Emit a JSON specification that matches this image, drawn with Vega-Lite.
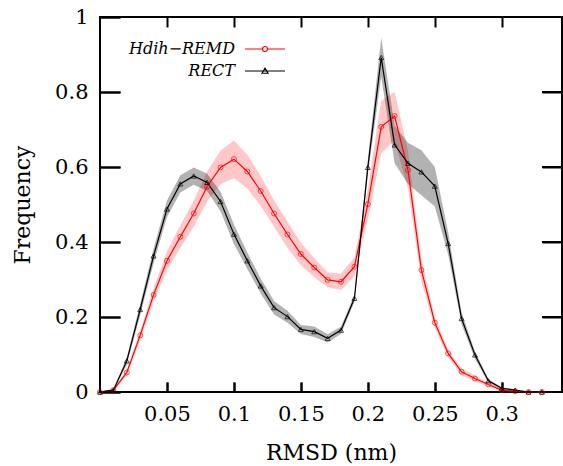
{
  "$schema": "https://vega.github.io/schema/vega-lite/v6.json",
  "width": 462,
  "height": 375,
  "autosize": {"type": "none"},
  "padding": {"left": 100, "top": 17, "right": 1, "bottom": 74},
  "config": {
    "view": {"stroke": "black", "strokeWidth": 2},
    "font": "DejaVu Serif",
    "axis": {
      "domain": false,
      "ticks": true,
      "tickColor": "black",
      "tickWidth": 2,
      "gridColor": "black",
      "gridWidth": 2,
      "gridOpacity": 1,
      "labelFont": "DejaVu Serif",
      "labelFontSize": 21,
      "labelColor": "black",
      "titleFont": "DejaVu Serif",
      "titleFontSize": 22,
      "titleFontWeight": "normal",
      "titleColor": "black",
      "labelFlush": false,
      "labelOverlap": false
    }
  },
  "data": {
    "values": [
      {"method": "H_dih-REMD", "rmsd": 0.00, "freq": 0, "lo": 0, "hi": 0},
      {"method": "H_dih-REMD", "rmsd": 0.01, "freq": 0.005, "lo": 0.002, "hi": 0.008},
      {"method": "H_dih-REMD", "rmsd": 0.02, "freq": 0.052, "lo": 0.044, "hi": 0.06},
      {"method": "H_dih-REMD", "rmsd": 0.03, "freq": 0.151, "lo": 0.139, "hi": 0.163},
      {"method": "H_dih-REMD", "rmsd": 0.04, "freq": 0.259, "lo": 0.241, "hi": 0.277},
      {"method": "H_dih-REMD", "rmsd": 0.05, "freq": 0.35, "lo": 0.325, "hi": 0.375},
      {"method": "H_dih-REMD", "rmsd": 0.06, "freq": 0.414, "lo": 0.384, "hi": 0.444},
      {"method": "H_dih-REMD", "rmsd": 0.07, "freq": 0.476, "lo": 0.441, "hi": 0.511},
      {"method": "H_dih-REMD", "rmsd": 0.08, "freq": 0.548, "lo": 0.508, "hi": 0.588},
      {"method": "H_dih-REMD", "rmsd": 0.09, "freq": 0.599, "lo": 0.554, "hi": 0.644},
      {"method": "H_dih-REMD", "rmsd": 0.10, "freq": 0.621, "lo": 0.571, "hi": 0.671},
      {"method": "H_dih-REMD", "rmsd": 0.11, "freq": 0.588, "lo": 0.543, "hi": 0.633},
      {"method": "H_dih-REMD", "rmsd": 0.12, "freq": 0.536, "lo": 0.496, "hi": 0.576},
      {"method": "H_dih-REMD", "rmsd": 0.13, "freq": 0.476, "lo": 0.441, "hi": 0.511},
      {"method": "H_dih-REMD", "rmsd": 0.14, "freq": 0.42, "lo": 0.385, "hi": 0.455},
      {"method": "H_dih-REMD", "rmsd": 0.15, "freq": 0.368, "lo": 0.338, "hi": 0.398},
      {"method": "H_dih-REMD", "rmsd": 0.16, "freq": 0.332, "lo": 0.307, "hi": 0.357},
      {"method": "H_dih-REMD", "rmsd": 0.17, "freq": 0.299, "lo": 0.279, "hi": 0.319},
      {"method": "H_dih-REMD", "rmsd": 0.18, "freq": 0.294, "lo": 0.272, "hi": 0.316},
      {"method": "H_dih-REMD", "rmsd": 0.19, "freq": 0.334, "lo": 0.309, "hi": 0.359},
      {"method": "H_dih-REMD", "rmsd": 0.20, "freq": 0.501, "lo": 0.461, "hi": 0.541},
      {"method": "H_dih-REMD", "rmsd": 0.21, "freq": 0.707, "lo": 0.637, "hi": 0.777},
      {"method": "H_dih-REMD", "rmsd": 0.22, "freq": 0.736, "lo": 0.671, "hi": 0.801},
      {"method": "H_dih-REMD", "rmsd": 0.23, "freq": 0.592, "lo": 0.542, "hi": 0.642},
      {"method": "H_dih-REMD", "rmsd": 0.24, "freq": 0.325, "lo": 0.295, "hi": 0.355},
      {"method": "H_dih-REMD", "rmsd": 0.25, "freq": 0.185, "lo": 0.17, "hi": 0.2},
      {"method": "H_dih-REMD", "rmsd": 0.26, "freq": 0.103, "lo": 0.093, "hi": 0.113},
      {"method": "H_dih-REMD", "rmsd": 0.27, "freq": 0.054, "lo": 0.045, "hi": 0.063},
      {"method": "H_dih-REMD", "rmsd": 0.28, "freq": 0.036, "lo": 0.028, "hi": 0.044},
      {"method": "H_dih-REMD", "rmsd": 0.29, "freq": 0.02, "lo": 0.015, "hi": 0.025},
      {"method": "H_dih-REMD", "rmsd": 0.30, "freq": 0.005, "lo": 0.003, "hi": 0.007},
      {"method": "H_dih-REMD", "rmsd": 0.31, "freq": 0.002, "lo": 0.001, "hi": 0.003},
      {"method": "H_dih-REMD", "rmsd": 0.32, "freq": 0, "lo": 0, "hi": 0},
      {"method": "H_dih-REMD", "rmsd": 0.33, "freq": 0, "lo": 0, "hi": 0},
      {"method": "RECT", "rmsd": 0.00, "freq": 0, "lo": 0, "hi": 0},
      {"method": "RECT", "rmsd": 0.01, "freq": 0.005, "lo": 0.002, "hi": 0.008},
      {"method": "RECT", "rmsd": 0.02, "freq": 0.083, "lo": 0.073, "hi": 0.093},
      {"method": "RECT", "rmsd": 0.03, "freq": 0.22, "lo": 0.205, "hi": 0.235},
      {"method": "RECT", "rmsd": 0.04, "freq": 0.363, "lo": 0.343, "hi": 0.383},
      {"method": "RECT", "rmsd": 0.05, "freq": 0.488, "lo": 0.466, "hi": 0.51},
      {"method": "RECT", "rmsd": 0.06, "freq": 0.555, "lo": 0.532, "hi": 0.578},
      {"method": "RECT", "rmsd": 0.07, "freq": 0.576, "lo": 0.553, "hi": 0.599},
      {"method": "RECT", "rmsd": 0.08, "freq": 0.559, "lo": 0.536, "hi": 0.582},
      {"method": "RECT", "rmsd": 0.09, "freq": 0.508, "lo": 0.482, "hi": 0.534},
      {"method": "RECT", "rmsd": 0.10, "freq": 0.421, "lo": 0.395, "hi": 0.447},
      {"method": "RECT", "rmsd": 0.11, "freq": 0.35, "lo": 0.328, "hi": 0.372},
      {"method": "RECT", "rmsd": 0.12, "freq": 0.283, "lo": 0.263, "hi": 0.303},
      {"method": "RECT", "rmsd": 0.13, "freq": 0.225, "lo": 0.207, "hi": 0.243},
      {"method": "RECT", "rmsd": 0.14, "freq": 0.201, "lo": 0.185, "hi": 0.217},
      {"method": "RECT", "rmsd": 0.15, "freq": 0.167, "lo": 0.155, "hi": 0.179},
      {"method": "RECT", "rmsd": 0.16, "freq": 0.161, "lo": 0.147, "hi": 0.175},
      {"method": "RECT", "rmsd": 0.17, "freq": 0.143, "lo": 0.132, "hi": 0.154},
      {"method": "RECT", "rmsd": 0.18, "freq": 0.165, "lo": 0.155, "hi": 0.175},
      {"method": "RECT", "rmsd": 0.19, "freq": 0.25, "lo": 0.24, "hi": 0.26},
      {"method": "RECT", "rmsd": 0.20, "freq": 0.599, "lo": 0.58, "hi": 0.62},
      {"method": "RECT", "rmsd": 0.21, "freq": 0.892, "lo": 0.84, "hi": 0.945},
      {"method": "RECT", "rmsd": 0.22, "freq": 0.659, "lo": 0.61, "hi": 0.71},
      {"method": "RECT", "rmsd": 0.23, "freq": 0.61, "lo": 0.555, "hi": 0.665},
      {"method": "RECT", "rmsd": 0.24, "freq": 0.587, "lo": 0.525, "hi": 0.645},
      {"method": "RECT", "rmsd": 0.25, "freq": 0.549, "lo": 0.495, "hi": 0.6},
      {"method": "RECT", "rmsd": 0.26, "freq": 0.396, "lo": 0.366, "hi": 0.426},
      {"method": "RECT", "rmsd": 0.27, "freq": 0.196, "lo": 0.18, "hi": 0.212},
      {"method": "RECT", "rmsd": 0.28, "freq": 0.099, "lo": 0.089, "hi": 0.109},
      {"method": "RECT", "rmsd": 0.29, "freq": 0.03, "lo": 0.025, "hi": 0.035},
      {"method": "RECT", "rmsd": 0.30, "freq": 0.01, "lo": 0.007, "hi": 0.013},
      {"method": "RECT", "rmsd": 0.31, "freq": 0.005, "lo": 0.003, "hi": 0.007},
      {"method": "RECT", "rmsd": 0.32, "freq": 0, "lo": 0, "hi": 0.001},
      {"method": "RECT", "rmsd": 0.33, "freq": 0, "lo": 0, "hi": 0}
    ]
  },
  "resolve": {"axis": {"x": "independent", "y": "independent"}},
  "layer": [
    {
      "mark": {"type": "area"},
      "encoding": {
        "x": {
          "field": "rmsd", "type": "quantitative",
          "scale": {"domain": [0, 0.345], "nice": false, "zero": false},
          "axis": {"orient": "bottom", "offset": -10, "values": [0.05, 0.1, 0.15, 0.2, 0.25, 0.3], "format": "~g", "tickSize": 10, "labelPadding": 11, "title": "RMSD (nm)", "titlePadding": 18, "grid": true, "gridDash": [10, 1000]}
        },
        "y": {
          "field": "lo", "type": "quantitative",
          "scale": {"domain": [0, 1], "nice": false},
          "axis": {"orient": "left", "offset": -20, "values": [0, 0.2, 0.4, 0.6, 0.8, 1], "format": "~g", "tickSize": 20, "labelPadding": 12, "title": "Frequency", "titlePadding": 20, "grid": true, "gridDash": [20, 1000]}
        },
        "y2": {"field": "hi"},
        "fill": {
          "field": "method", "type": "nominal",
          "scale": {"range": ["rgba(255,0,0,0.22)", "rgba(0,0,0,0.3)"]},
          "legend": null
        }
      }
    },
    {
      "mark": {"type": "line", "strokeWidth": 1.2},
      "encoding": {
        "x": {
          "field": "rmsd", "type": "quantitative",
          "axis": {"orient": "top", "values": [0.05, 0.1, 0.15, 0.2, 0.25, 0.3], "ticks": false, "labels": false, "domain": false, "title": null, "grid": true, "gridDash": [10, 1000]}
        },
        "y": {
          "field": "freq", "type": "quantitative",
          "axis": {"orient": "right", "values": [0.2, 0.4, 0.6, 0.8], "ticks": false, "labels": false, "domain": false, "title": null, "grid": true, "gridDash": [20, 1000]}
        },
        "stroke": {
          "field": "method", "type": "nominal",
          "scale": {"domain": ["H_dih-REMD", "RECT"], "range": ["#ff0000", "#000000"]},
          "legend": {
            "orient": "none",
            "legendX": 157,
            "legendY": 24,
            "title": null,
            "padding": 0,
            "symbolSize": 100,
            "symbolStrokeWidth": 1.2,
            "rowPadding": 6,
            "labelFont": "DejaVu Serif",
            "labelFontStyle": "italic",
            "labelFontSize": 16,
            "labelColor": "black",
            "labelAlign": "right",
            "labelOffset": -38,
            "labelExpr": "datum.value == 'H_dih-REMD' ? 'Hdih−REMD' : datum.value",
            "encode": {
              "symbols": {
                "update": {
                  "shape": {"signal": "datum.value == 'RECT' ? 'M-4,0H4M-0.6,0.45L0,-0.55L0.6,0.45Z' : 'M-4,0H-0.5M0.5,0H4M0.5,0A0.5,0.5 0 1,1 -0.5,0A0.5,0.5 0 1,1 0.5,0'"},
                  "fill": {"value": "transparent"}
                }
              }
            }
          }
        }
      }
    },
    {
      "mark": {"type": "point", "filled": false, "size": 25, "strokeWidth": 1},
      "encoding": {
        "x": {"field": "rmsd", "type": "quantitative", "axis": null},
        "y": {"field": "freq", "type": "quantitative", "axis": null},
        "color": {
          "field": "method", "type": "nominal",
          "scale": {"range": ["#ff0000", "#000000"]},
          "legend": null
        },
        "shape": {
          "field": "method", "type": "nominal",
          "scale": {"range": ["circle", "triangle-up"]},
          "legend": null
        }
      }
    },
    {
      "data": {"values": [{"yr": 0.2}, {"yr": 0.4}, {"yr": 0.6}, {"yr": 0.8}]},
      "mark": {"type": "tick", "orient": "horizontal", "color": "black", "opacity": 1, "size": 20, "thickness": 2},
      "encoding": {
        "y": {"field": "yr", "type": "quantitative", "axis": null},
        "x": {"datum": 0.3375, "type": "quantitative", "axis": null}
      }
    }
  ]
}
